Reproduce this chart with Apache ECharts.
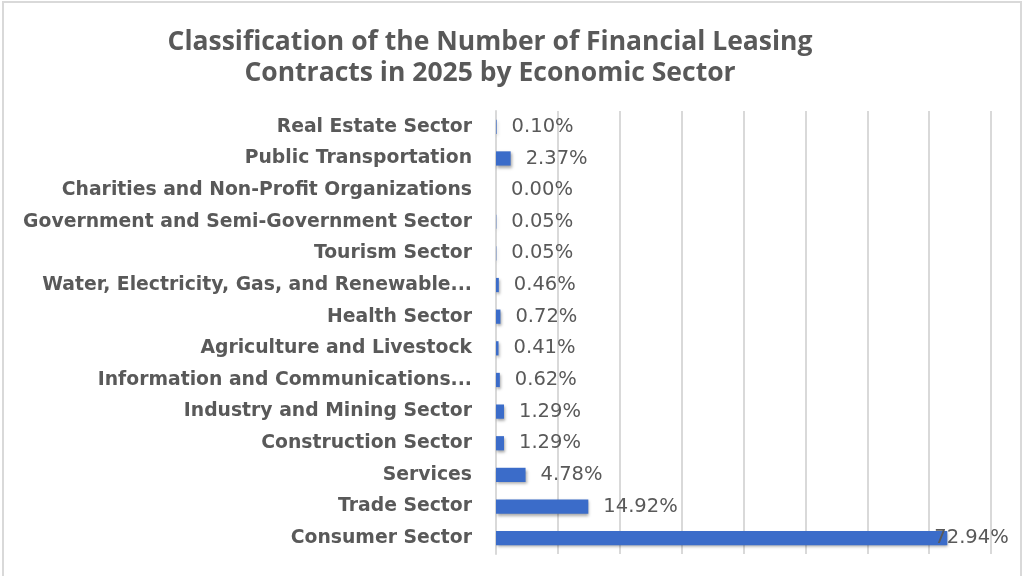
<!DOCTYPE html>
<html>
<head>
<meta charset="utf-8">
<script src="https://cdn.jsdelivr.net/npm/echarts@6/dist/echarts.min.js"></script>
<style>
    html, body { margin: 0; padding: 0; background: #fff; }
    #chart { width: 1024px; height: 576px; }
</style>
</head>
<body>
<div id="chart"></div>
<script>
/* categories, top to bottom as in the picture */
var sectors = [
    'Real Estate Sector',
    'Public Transportation',
    'Charities and Non-Profit Organizations',
    'Government and Semi-Government Sector',
    'Tourism Sector',
    'Water, Electricity, Gas, and Renewable...',
    'Health Sector',
    'Agriculture and Livestock',
    'Information and Communications...',
    'Industry and Mining Sector',
    'Construction Sector',
    'Services',
    'Trade Sector',
    'Consumer Sector'
];
/* share of contracts, percent */
var shares = [0.10, 2.37, 0.00, 0.05, 0.05, 0.46, 0.72, 0.41, 0.62, 1.29, 1.29, 4.78, 14.92, 72.94];

var textColor = '#595959';
var barColor = '#3b6cc9';

var maxShare = Math.max.apply(null, shares);
var barData = shares.map(function (v) {
    var item = { value: v };
    if (v == maxShare) {
        // Excel pushed this label back over the bar end
        item.label = { offset: [-28, 0] };
    }
    return item;
});

var myChart = echarts.init(document.getElementById('chart'));

var option = {
    backgroundColor: '#fff',
    animation: false,
    title: {
        text: 'Classification of the Number of Financial Leasing\nContracts in 2025 by Economic Sector',
        left: 485,
        top: 22,
        textAlign: 'center',
        textStyle: {
            fontFamily: 'Open Sans',
            fontSize: 26.5,
            fontWeight: 'bold',
            color: textColor,
            lineHeight: 31
        }
    },
    graphic: [{
        type: 'rect',
        shape: { x: 3, y: 2, width: 1018, height: 580 },
        style: { fill: null, stroke: '#d9d9d9', lineWidth: 2 },
        silent: true
    }],
    grid: {
        left: 496,
        right: 33,
        top: 111,
        bottom: 22
    },
    xAxis: {
        type: 'value',
        min: 0,
        max: 80,
        interval: 10,
        axisLabel: { show: false },
        axisLine: { show: false },
        axisTick: { show: false },
        splitLine: {
            show: true,
            lineStyle: { color: '#d9d9d9', width: 2 }
        }
    },
    yAxis: {
        type: 'category',
        inverse: true,
        data: sectors,
        axisTick: { show: false },
        axisLine: {
            show: true,
            lineStyle: { color: '#d9d9d9', width: 2 }
        },
        axisLabel: {
            margin: 24,
            fontFamily: 'DejaVu Sans',
            fontSize: 18.8,
            fontWeight: 'bold',
            color: textColor
        }
    },
    series: [{
        type: 'bar',
        data: barData,
        barCategoryGap: '55%',
        itemStyle: {
            color: barColor,
            shadowColor: 'rgba(0, 0, 0, 0.35)',
            shadowBlur: 3,
            shadowOffsetX: 1,
            shadowOffsetY: 2
        },
        label: {
            show: true,
            position: 'right',
            distance: 15,
            fontFamily: 'DejaVu Sans',
            fontSize: 19.5,
            color: textColor,
            formatter: function (p) {
                return p.value.toFixed(2) + '%';
            }
        }
    }]
};

myChart.setOption(option);
</script>
</body>
</html>
